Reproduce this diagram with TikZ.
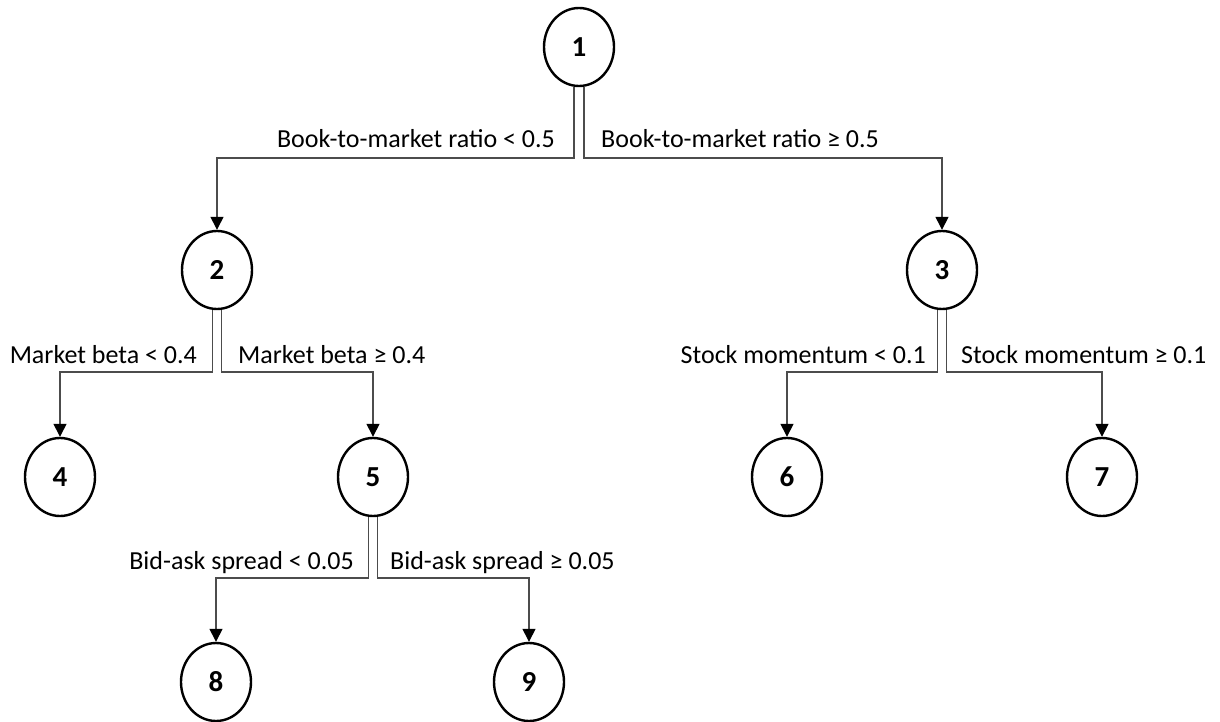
\documentclass[tikz,border=0pt]{standalone}
\usepackage{fontspec}
\setmainfont{Carlito}
\usetikzlibrary{shapes.geometric,arrows.meta}
\begin{document}
\begin{tikzpicture}[x=1pt,y=-1pt,
  tnode/.style={ellipse,draw=black,line width=2.4pt,minimum width=70pt,minimum height=78pt,inner sep=0pt,font=\fontsize{29}{34}\selectfont\bfseries},
  conn/.style={draw=black!70,line width=1.4pt,-{Triangle[width=13pt,length=13pt,color=black]}},
  lbl/.style={font=\fontsize{26}{31}\selectfont,inner sep=0pt,text=black}]
\useasboundingbox (0,0) rectangle (1220,722);
\coordinate (h1) at (0,158);
\coordinate (h2) at (0,372);
\coordinate (h3) at (0,578);
\node[tnode] (n1) at (579,47) {1};
\node[tnode] (n2) at (217,270) {2};
\node[tnode] (n3) at (942,270) {3};
\node[tnode] (n4) at (60,477) {4};
\node[tnode] (n5) at (373,477) {5};
\node[tnode] (n6) at (787,477) {6};
\node[tnode] (n7) at (1102,477) {7};
\node[tnode] (n8) at (216,682) {8};
\node[tnode] (n9) at (529,682) {9};
% connectors
\draw[conn] ([xshift=-5pt]n1.south) |- (n2.north |- h1) -- (n2.north);
\draw[conn] ([xshift=5pt]n1.south) |- (n3.north |- h1) -- (n3.north);
\draw[conn] ([xshift=-4.5pt]n2.south) |- (n4.north |- h2) -- (n4.north);
\draw[conn] ([xshift=4.5pt]n2.south) |- (n5.north |- h2) -- (n5.north);
\draw[conn] ([xshift=-4.5pt]n3.south) |- (n6.north |- h2) -- (n6.north);
\draw[conn] ([xshift=4.5pt]n3.south) |- (n7.north |- h2) -- (n7.north);
\draw[conn] ([xshift=-4.5pt]n5.south) |- (n8.north |- h3) -- (n8.north);
\draw[conn] ([xshift=4.5pt]n5.south) |- (n9.north |- h3) -- (n9.north);
% labels
\node[lbl,anchor=base east] (l12) at (555,148) {Book-to-market ratio < 0.5};
\node[lbl,anchor=base west] (l13) at (601,148) {Book-to-market ratio ≥ 0.5};
\node[lbl,anchor=base east] (l24) at (197,363) {Market beta < 0.4};
\node[lbl,anchor=base west] (l25) at (238,363) {Market beta ≥ 0.4};
\node[lbl,anchor=base east] (l36) at (926,363) {Stock momentum < 0.1};
\node[lbl,anchor=base west] (l37) at (961,363) {Stock momentum ≥ 0.1};
\node[lbl,anchor=base east] (l58) at (354,569) {Bid-ask spread < 0.05};
\node[lbl,anchor=base west] (l59) at (390,569) {Bid-ask spread ≥ 0.05};
\end{tikzpicture}
\end{document}
